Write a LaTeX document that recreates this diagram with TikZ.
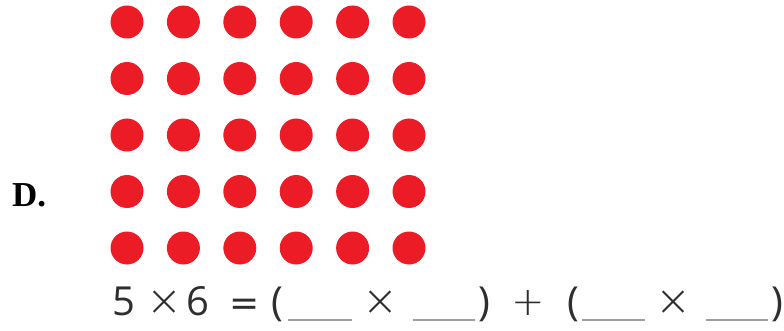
\documentclass[tikz,border=0pt]{standalone}
\usepackage{fontspec}
\setmainfont{Liberation Serif}
\newfontfamily\eqfont{Open Sans}
\newfontfamily\opfont{DejaVu Sans ExtraLight}
\newfontfamily\eqsignfont{DejaVu Sans}
\usetikzlibrary{positioning}
\definecolor{DotRed}{HTML}{EB1C26}
\definecolor{InkGray}{HTML}{2E2E2E}
\definecolor{BlankGray}{HTML}{9E9E9E}

\begin{document}
\begin{tikzpicture}[
  x=1pt, y=-1pt,
  dot/.style={circle, fill=DotRed, minimum size=33pt, inner sep=0pt},
  sym/.style={anchor=base, inner sep=0pt, text=InkGray,
    font=\eqfont\fontsize{40}{40}\selectfont},
  op/.style={anchor=base, inner sep=0pt, text=InkGray,
    font=\opfont\fontsize{#1}{#1}\selectfont},
  blank/.style={draw=BlankGray, line width=2.6pt}
]
\useasboundingbox (0,0) rectangle (784,331);
% dot array, 5 rows of 6
\foreach \r in {0,...,4}
  \foreach \c in {0,...,5}
    \node[dot] (dot\r\c) at ({127+56.4*\c},{22+56.5*\r}) {};
\node[anchor=base west, inner sep=0pt, font=\fontsize{35}{35}\selectfont\bfseries] (label) at (12,207) {D.};
% equation line
\foreach \x/\t [count=\i] in {123.5/5, 198/6, 277.5/(, 484/), 573.5/(, 777.5/)}
  \node[sym] (eq\i) at (\x,315) {\t};
\foreach \x/\t/\s [count=\i] in {164.5/×/43, 380.5/×/43, 528.5/+/40, 673.5/×/43}
  \node[op=\s] (op\i) at (\x,315) {\t};
\node[op=36, font=\eqsignfont\fontsize{36}{36}\selectfont] (equals) at (244.5,315) {=};
\foreach \a/\b in {288/352, 413/475, 582/645, 706/768}
  \draw[blank] (\a,320) -- (\b,320);
\end{tikzpicture}
\end{document}
